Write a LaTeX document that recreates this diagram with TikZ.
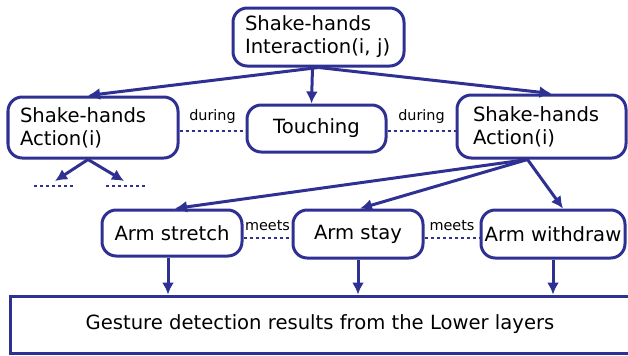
\documentclass[tikz,border=0pt]{standalone}
\usepackage{fontspec}
\setmainfont{DejaVu Sans}
\usepackage{tikz}
\usetikzlibrary{arrows.meta,positioning,calc}
\definecolor{Navy}{HTML}{2E3192}
\tikzset{
  box/.style={rounded corners=2.5mm,draw=Navy,line width=1.5pt,fill=white,align=left,font=\fontsize{9.8}{11.5}\selectfont,inner sep=0pt},
  arrow/.style={-{Latex[length=6pt,width=6pt]},line width=1.5pt,draw=Navy},
  relation/.style={draw=Navy,line width=1.3pt,dash pattern=on 1.6pt off 1.4pt},
  rellabel/.style={font=\fontsize{7.2}{8}\selectfont,inner sep=1pt}
}
\begin{document}
\begin{tikzpicture}[x=0.5pt,y=-0.5pt]
  \useasboundingbox (0,0) rectangle (628,355);
  % interaction and the two actions
  \node[box,text width=73.5pt,inner xsep=6pt,minimum height=29pt] (inter) at (318.5,37) {Shake-hands\\Interaction(i, j)};
  \node[box,text width=73pt,inner xsep=6pt,minimum height=30.5pt] (actl) at (93,127.5) {Shake-hands\\Action(i)};
  \node[box,minimum width=69.5pt,minimum height=23.5pt,align=center] (touch) at (316.5,128.5) {Touching};
  \node[box,text width=68.5pt,inner xsep=8pt,minimum height=31.5pt] (actr) at (541.5,126.5) {Shake-hands\\Action(i)};
  % sub-actions
  \node[box,minimum width=70pt,minimum height=23pt] (stretch) at (172,233) {Arm stretch};
  \node[box,minimum width=65pt,minimum height=24pt] (stay) at (358,234) {Arm stay};
  \node[box,minimum width=72pt,minimum height=24pt] (withdraw) at (553,234) {Arm withdraw};
  % lower layers
  \node[draw=Navy,line width=1.5pt,minimum width=310pt,minimum height=28.5pt,font=\fontsize{9.8}{11.5}\selectfont,inner sep=0pt] (lower) at (320,324.5) {Gesture detection results from the Lower layers};
  % unexpanded children of the left action
  \coordinate (subl) at (55,181);
  \coordinate (subr) at (124,181);
  \draw[relation] (34,186) -- (73,186);
  \draw[relation] (106,186) -- (146,186);

  \draw[arrow] (inter.south) -- ([xshift=-2.5pt]actl.north);
  \draw[arrow] ([xshift=-3pt]inter.south) -- ([xshift=-2.5pt]touch.north);
  \draw[arrow] (inter.south) -- ([xshift=5pt]actr.north);
  \draw[arrow] ([xshift=-2.5pt]actl.south) -- (subl);
  \draw[arrow] ([xshift=-2.5pt]actl.south) -- (subr);
  \draw[arrow] ([xshift=-7pt]actr.south) -- ([xshift=1.5pt]stretch.north);
  \draw[arrow] ([xshift=-7pt]actr.south) -- ([xshift=1pt]stay.north);
  \draw[arrow] ([xshift=-7pt]actr.south) -- ([xshift=5pt]withdraw.north);
  \foreach \n/\dx in {stretch/-2pt,stay/0pt,withdraw/0pt}
    \draw[arrow] ([xshift=\dx]\n.south) -- ([xshift=\dx]\n.south |- lower.north);

  % temporal relations
  \draw[relation] (actl.east |- 0,131) -- node[rellabel,above=2pt]{during} (touch.west |- 0,131);
  \draw[relation] (touch.east |- 0,131) -- node[rellabel,above=2pt]{during} (actr.west |- 0,131);
  \draw[relation] (stretch.east |- 0,238) -- node[rellabel,above=2pt]{meets} (stay.west |- 0,238);
  \draw[relation] (stay.east |- 0,238) -- node[rellabel,above=2pt]{meets} (withdraw.west |- 0,238);
\end{tikzpicture}
\end{document}
